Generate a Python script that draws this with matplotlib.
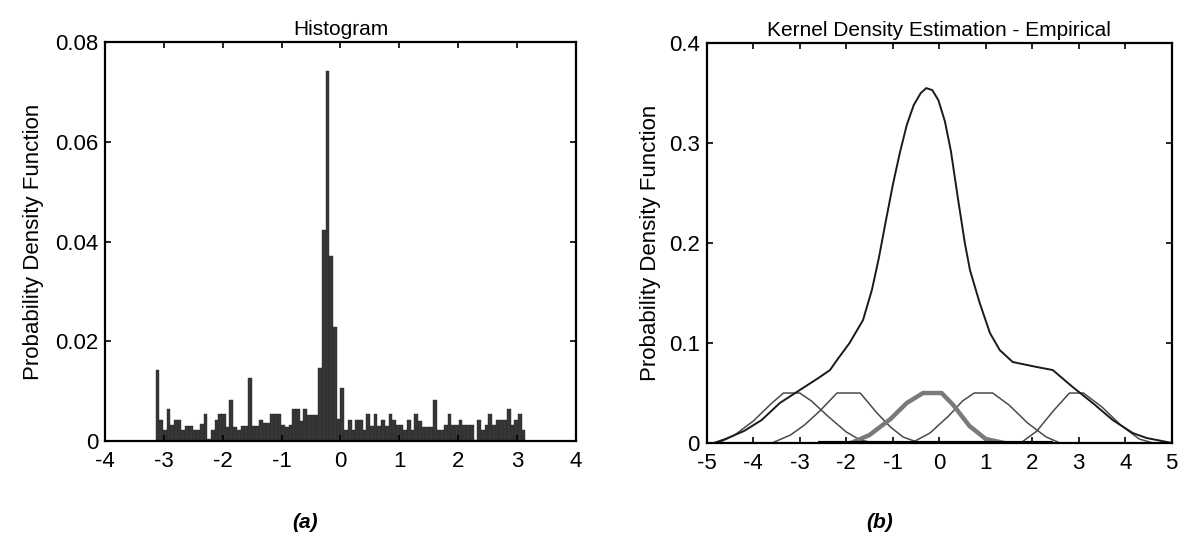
import matplotlib.pyplot as plt
import numpy as np

plt.rcParams['font.family'] = ['Liberation Sans', 'DejaVu Sans']
plt.rcParams['axes.unicode_minus'] = False

# ---- histogram of the phase values, 100 bins over [-pi, pi] ----
n_bins = 100
hist_pdf = [
    0.0143, 0.0043, 0.0022, 0.0065, 0.0032, 0.0043, 0.0043, 0.0022, 0.0031, 0.0031,
    0.0022, 0.0022, 0.0035, 0.0054, 0.0005, 0.0022, 0.0043, 0.0054, 0.0054, 0.0029,
    0.0082, 0.0029, 0.0022, 0.0031, 0.0031, 0.0127, 0.0031, 0.0031, 0.0043, 0.0037,
    0.0037, 0.0054, 0.0054, 0.0055, 0.0032, 0.0029, 0.0032, 0.0065, 0.0065, 0.0040,
    0.0065, 0.0052, 0.0052, 0.0052, 0.0146, 0.0424, 0.0742, 0.0372, 0.0228, 0.0045,
    0.0106, 0.0022, 0.0043, 0.0022, 0.0043, 0.0043, 0.0022, 0.0054, 0.0031, 0.0054,
    0.0031, 0.0043, 0.0031, 0.0055, 0.0043, 0.0032, 0.0032, 0.0022, 0.0043, 0.0022,
    0.0055, 0.0040, 0.0029, 0.0029, 0.0029, 0.0082, 0.0022, 0.0022, 0.0032, 0.0055,
    0.0032, 0.0032, 0.0043, 0.0032, 0.0032, 0.0032, 0.0003, 0.0043, 0.0022, 0.0032,
    0.0055, 0.0032, 0.0043, 0.0043, 0.0043, 0.0065, 0.0032, 0.0043, 0.0055, 0.0022,
]
hist_xticks = [-4, -3, -2, -1, 0, 1, 2, 3, 4]
hist_yticks = [0, 0.02, 0.04, 0.06, 0.08]
hist_yticklabels = ['0', '0.02', '0.04', '0.06', '0.08']

# ---- kernel density estimate and a few of its kernels ----
kde_x = [-5.0, -4.85, -4.6, -4.2, -3.82, -3.43, -3.0, -2.6, -2.35, -2.2, -1.93,
         -1.64, -1.45, -1.3, -1.15, -1.0, -0.85, -0.7, -0.55, -0.4, -0.28, -0.15,
         -0.02, 0.12, 0.25, 0.4, 0.55, 0.66, 0.87, 1.09, 1.3, 1.58, 2.1, 2.44,
         2.87, 3.3, 3.73, 4.16, 4.46, 4.9, 5.0]
kde_y = [0.0, 0.0, 0.004, 0.012, 0.023, 0.040, 0.053, 0.065, 0.073, 0.083, 0.100,
         0.123, 0.153, 0.185, 0.222, 0.258, 0.290, 0.318, 0.338, 0.350, 0.355,
         0.353, 0.343, 0.322, 0.292, 0.245, 0.200, 0.173, 0.140, 0.110, 0.093,
         0.081, 0.076, 0.073, 0.056, 0.040, 0.023, 0.010, 0.005, 0.001, 0.0]

kern_a_x = [-4.75, -4.4, -4.0, -3.6, -3.35, -3.0, -2.75, -2.4, -2.0, -1.7, -1.4]
kern_a_y = [0.0, 0.008, 0.022, 0.040, 0.050, 0.050, 0.042, 0.027, 0.011, 0.003, 0.0]
kern_b_x = [-3.6, -3.2, -2.9, -2.57, -2.2, -1.7, -1.34, -1.05, -0.78, -0.42]
kern_b_y = [0.0, 0.008, 0.018, 0.032, 0.050, 0.050, 0.030, 0.016, 0.006, 0.0]
kern_c_x = [-1.9, -1.5, -1.05, -0.7, -0.35, 0.05, 0.3, 0.65, 1.0, 1.4]
kern_c_y = [0.0, 0.008, 0.024, 0.040, 0.050, 0.050, 0.038, 0.017, 0.004, 0.0]
kern_d_x = [-0.6, -0.2, 0.2, 0.5, 0.75, 1.15, 1.5, 1.9, 2.3, 2.6]
kern_d_y = [0.0, 0.010, 0.027, 0.042, 0.050, 0.050, 0.038, 0.020, 0.006, 0.0]
kern_e_x = [1.75, 2.1, 2.45, 2.8, 3.1, 3.5, 3.9, 4.3, 4.6]
kern_e_y = [0.0, 0.012, 0.032, 0.050, 0.050, 0.036, 0.018, 0.004, 0.0]
floor_x = [-2.6, 2.45]
floor_y = [0.0, 0.0]

kde_xticks = [-5, -4, -3, -2, -1, 0, 1, 2, 3, 4, 5]
kde_yticks = [0, 0.1, 0.2, 0.3, 0.4]
kde_yticklabels = ['0', '0.1', '0.2', '0.3', '0.4']


def matlab_box(ax):
    for s in ax.spines.values():
        s.set_linewidth(1.6)
    ax.tick_params(direction='in', top=True, right=True, length=4, width=1.2,
                   labelsize=16)
    ax.tick_params(axis='x', pad=7)
    ax.tick_params(axis='y', pad=5)


fig = plt.figure(figsize=(11.8, 5.36), dpi=100)

ax1 = fig.add_axes([0.089, 0.177, 0.399, 0.744])
edges = np.linspace(-np.pi, np.pi, n_bins + 1)
ax1.bar(edges[:-1], hist_pdf, width=np.diff(edges), align='edge',
        color='#363636', edgecolor='#2a2a2a', linewidth=0.3)
ax1.set_xlim(-4, 4)
ax1.set_ylim(0, 0.08)
ax1.set_xticks(hist_xticks)
ax1.set_yticks(hist_yticks)
ax1.set_yticklabels(hist_yticklabels)
ax1.set_title('Histogram', fontsize=15, pad=5)
ax1.set_ylabel('Probability Density Function', fontsize=16, labelpad=8)
matlab_box(ax1)

ax2 = fig.add_axes([0.599, 0.1735, 0.394, 0.746])
for kx, ky in [(kern_a_x, kern_a_y), (kern_b_x, kern_b_y),
               (kern_d_x, kern_d_y), (kern_e_x, kern_e_y)]:
    ax2.plot(kx, ky, color='#4a4a4a', linewidth=1.1)
ax2.plot(kern_c_x, kern_c_y, color='#7a7a7a', linewidth=3.2)
ax2.plot(floor_x, floor_y, color='black', linewidth=3, solid_capstyle='butt')
ax2.plot(kde_x, kde_y, color='#1a1a1a', linewidth=1.4)
ax2.set_xlim(-5, 5)
ax2.set_ylim(0, 0.4)
ax2.set_xticks(kde_xticks)
ax2.set_yticks(kde_yticks)
ax2.set_yticklabels(kde_yticklabels)
ax2.set_title('Kernel Density Estimation - Empirical', fontsize=15, pad=5)
ax2.set_ylabel('Probability Density Function', fontsize=16, labelpad=6)
matlab_box(ax2)

fig.text(305 / 1180, 1 - 523 / 536, '(a)', ha='center', va='center',
         fontsize=15, fontweight='bold', fontstyle='italic')
fig.text(880 / 1180, 1 - 523 / 536, '(b)', ha='center', va='center',
         fontsize=15, fontweight='bold', fontstyle='italic')

fig.savefig('out.png', dpi=100)
